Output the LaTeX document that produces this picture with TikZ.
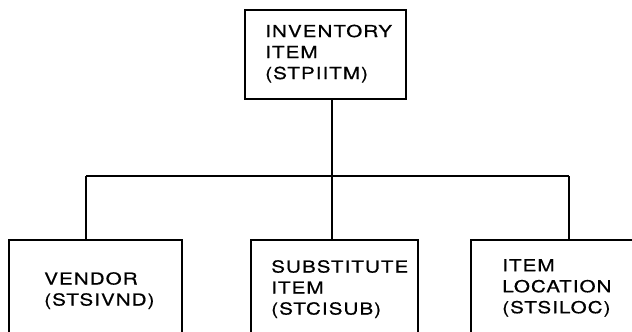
\documentclass[tikz,border=0pt]{standalone}
\usepackage{fontspec}
\setmainfont[LetterSpace=5,FakeBold=0.5]{TeX Gyre Heros}
\begin{document}
\begin{tikzpicture}[x=1pt,y=-1pt,
  box/.style={draw,line width=1.4pt,rectangle,inner sep=0pt},
  lbl/.style={anchor=north west,inner sep=0pt,align=left,xscale=1.25,transform shape,font=\fontsize{16.5}{21}\selectfont},
  wire/.style={line width=1.4pt}]
\useasboundingbox (0,0) rectangle (632,332);
\clip (0,0) rectangle (632,332);
\node[box,minimum width=161pt,minimum height=89pt] (top) at (325.5,54.5) {};
\node[box,minimum width=173pt,minimum height=130pt] (vend) at (95.5,305) {};
\node[box,minimum width=167pt,minimum height=130pt] (subs) at (334.5,305) {};
\node[box,minimum width=229pt,minimum height=130pt] (iloc) at (585.5,305) {};
\node[lbl] (tt) at (265,24.5) {INVENTORY\\ITEM\\(STPIITM)};
\node[lbl] (vt) at (44,272) {VENDOR\\(STSIVND)};
\node[lbl] (st) at (271,260) {SUBSTITUTE\\ITEM\\(STCISUB)};
\node[lbl] (it) at (502,259) {ITEM\\LOCATION\\(STSILOC)};
\coordinate (bus) at (332,176);
\coordinate (busl) at (86,176);
\coordinate (busr) at (569,176);
\draw[wire] (top.south -| bus) -- (bus);
\draw[wire] (busl) -- (busr);
\draw[wire] (busl) -- (vend.north -| busl);
\draw[wire] (bus) -- (subs.north -| bus);
\draw[wire] (busr) -- (iloc.north -| busr);
\end{tikzpicture}
\end{document}
